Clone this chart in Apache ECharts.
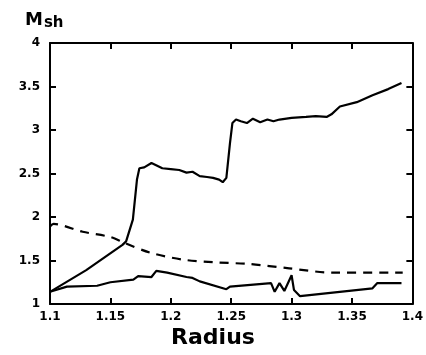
<!DOCTYPE html>
<html><head><meta charset="utf-8">
<script src="https://cdn.jsdelivr.net/npm/echarts@6/dist/echarts.min.js"></script>
<style>html,body{margin:0;padding:0;background:#fff}#c{width:426px;height:355px}</style>
</head><body><div id="c"></div>
<script>
const xTicks = [1.1, 1.15, 1.2, 1.25, 1.3, 1.35, 1.4];
const yTicks = [1, 1.5, 2, 2.5, 3, 3.5, 4];
const upperX = [1.1, 1.13, 1.16, 1.163, 1.1686, 1.172, 1.174, 1.178, 1.184, 1.193, 1.2, 1.207, 1.213, 1.218, 1.224, 1.23, 1.235, 1.24, 1.243, 1.246, 1.249, 1.251, 1.254, 1.258, 1.263, 1.268, 1.274, 1.28, 1.285, 1.29, 1.3, 1.312, 1.32, 1.329, 1.333, 1.34, 1.354, 1.367, 1.38, 1.391];
const upperY = [1.14, 1.39, 1.68, 1.72, 1.97, 2.43, 2.56, 2.57, 2.62, 2.56, 2.55, 2.54, 2.51, 2.52, 2.47, 2.46, 2.45, 2.43, 2.40, 2.45, 2.85, 3.08, 3.12, 3.10, 3.08, 3.13, 3.09, 3.12, 3.10, 3.12, 3.14, 3.15, 3.16, 3.15, 3.18, 3.27, 3.32, 3.40, 3.47, 3.54];
const dashX = [1.1, 1.103, 1.127, 1.15, 1.162, 1.183, 1.21, 1.235, 1.265, 1.298, 1.334, 1.392];
const dashY = [1.89, 1.92, 1.83, 1.77, 1.70, 1.59, 1.51, 1.48, 1.46, 1.41, 1.36, 1.36];
const lowerX = [1.1, 1.114, 1.139, 1.15, 1.169, 1.173, 1.184, 1.188, 1.197, 1.213, 1.218, 1.224, 1.246, 1.249, 1.283, 1.286, 1.29, 1.294, 1.3, 1.302, 1.307, 1.367, 1.371, 1.391];
const lowerY = [1.14, 1.20, 1.21, 1.25, 1.28, 1.32, 1.31, 1.38, 1.36, 1.31, 1.30, 1.26, 1.17, 1.20, 1.24, 1.14, 1.24, 1.15, 1.33, 1.16, 1.09, 1.18, 1.24, 1.24];
const zip = (a, b) => a.map((v, i) => [v, b[i]]);
const chart = echarts.init(document.getElementById('c'), null, {renderer: 'canvas'});
const lab = {color: '#000', fontFamily: 'DejaVu Sans', fontWeight: 'bold', fontSize: 12};
const axLine = {show: true, lineStyle: {color: '#000', width: 2}};
const tick = {show: true, inside: true, length: 6, lineStyle: {color: '#000', width: 2}};
chart.setOption({
  animation: false,
  backgroundColor: '#fff',
  grid: {left: 50, right: 13, top: 43, bottom: 51},
  graphic: [
    {type: 'text', left: 25, top: 11, style: {
      text: '{m|M}{s|sh}',
      rich: {
        m: {fontFamily: 'DejaVu Sans', fontWeight: 900, fontSize: 18, fill: '#000'},
        s: {fontFamily: 'DejaVu Sans', fontWeight: 900, fontSize: 15, fill: '#000', padding: [6, 0, 0, 1]}
      }}},
    {type: 'text', left: 'center', top: 327, style: {text: 'Radius', font: '900 22px "DejaVu Sans"', fill: '#000'}}
  ],
  xAxis: [
    {type: 'value', min: 1.1, max: 1.4, interval: 0.05, axisLine: axLine, axisTick: tick, splitLine: {show: false},
     axisLabel: Object.assign({margin: 7, formatter: v => String(+v.toFixed(2))}, lab)},
    {type: 'value', position: 'top', min: 1.1, max: 1.4, interval: 0.05, axisLine: axLine, axisTick: tick, splitLine: {show: false}, axisLabel: {show: false}}
  ],
  yAxis: [
    {type: 'value', min: 1, max: 4, interval: 0.5, axisLine: axLine, axisTick: tick, splitLine: {show: false},
     axisLabel: Object.assign({margin: 10, formatter: v => String(+v.toFixed(1))}, lab)},
    {type: 'value', position: 'right', min: 1, max: 4, interval: 0.5, axisLine: axLine, axisTick: tick, splitLine: {show: false}, axisLabel: {show: false}}
  ],
  series: [
    {type: 'line', data: zip(upperX, upperY), showSymbol: false, lineStyle: {color: '#000', width: 2.2}},
    {type: 'line', data: zip(dashX, dashY), showSymbol: false, smooth: 0.3, lineStyle: {color: '#000', width: 2.2, type: [9, 7]}},
    {type: 'line', data: zip(lowerX, lowerY), showSymbol: false, lineStyle: {color: '#000', width: 2.2}}
  ]
});
</script></body></html>
